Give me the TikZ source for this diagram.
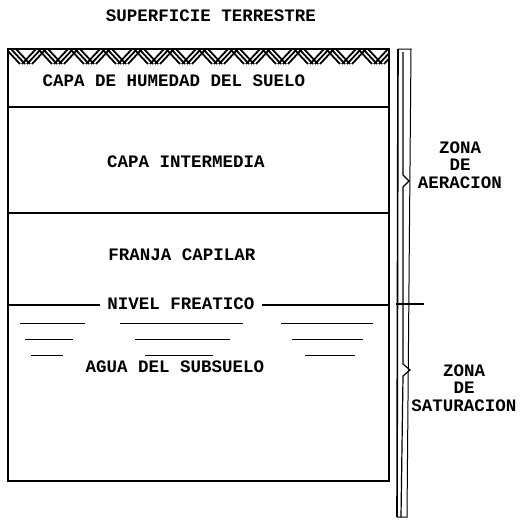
\documentclass[tikz,border=0pt]{standalone}
\usepackage{fontspec}
\setmonofont{Liberation Mono}
\usepackage{tikz}
\usetikzlibrary{positioning}
\tikzset{label/.style = {font=\ttfamily\bfseries\fontsize{17.5}{17.5}\selectfont, inner sep=0}}
\tikzset{layer/.style = {line width=1.2pt}}
\tikzset{water/.style = {line width=1pt}}

\begin{document}
\begin{tikzpicture}[x=1pt, y=-1pt]
      \useasboundingbox (0, 0) rectangle (522, 520);
      % ground column
      \draw [layer] (8, 49) rectangle (389, 481);
      \begin{scope}
        \clip (8, 49) rectangle (389, 64);
        \foreach \i in {0,...,24} {
          \ifodd\i
            \foreach \k in {0, 5, 10} \draw [line width=1.8pt] (6 + \i*16 + \k, 64) -- (20 + \i*16 + \k, 49);
          \else
            \foreach \k in {0, 5, 10} \draw [line width=1.8pt] (6 + \i*16 + \k, 49) -- (20 + \i*16 + \k, 64);
          \fi
        }
      \end{scope}
      \draw [line width=2pt] (8, 49) -- (389, 49);
      \draw [layer] (8, 107) -- (389, 107);
      \draw [layer] (8, 213) -- (389, 213);
      % labels
      \node [label] (surface) at (211, 16) {SUPERFICIE TERRESTRE};
      \node [label] (humedad) at (174, 81) {CAPA DE HUMEDAD DEL SUELO};
      \node [label] (intermedia) at (186, 162) {CAPA INTERMEDIA};
      \node [label] (capilar) at (182, 255) {FRANJA CAPILAR};
      \node [label, inner xsep=7pt] (freatico) at (181, 304) {NIVEL FREATICO};
      \node [label] (subsuelo) at (175, 367) {AGUA DEL SUBSUELO};
      \draw [layer] (8, 305) -- (freatico.west |- 0, 305);
      \draw [layer] (freatico.east |- 0, 305) -- (389, 305);
      % water
      \foreach \xa/\xb/\y in {20/85/323, 120/243/323, 281/373/323,
                              25/73/339, 135/230/339, 292/363/339,
                              31/63/355, 145/213/355, 305/355/355}
        \draw [water] (\xa, \y) -- (\xb, \y);
      % zones
      \draw [line width=1pt] (398, 49) -- (411, 49) -- (407, 517) -- (397, 517);
      \draw [line width=1.6pt] (398, 49) -- (397, 517);
      \draw [line width=1.2pt] (403, 52) -- (403, 175) -- (409, 181) -- (403, 187)
                                 -- (403, 364) -- (410, 370) -- (403, 376) -- (401, 517);
      \draw [layer] (396, 304) -- (424, 304);
      \node [label, align=center] (aeracion) at (460, 165) {ZONA\\DE\\AERACION};
      \node [label, align=center] (saturacion) at (464, 388) {ZONA\\DE\\SATURACION};
    \end{tikzpicture}
\end{document}
